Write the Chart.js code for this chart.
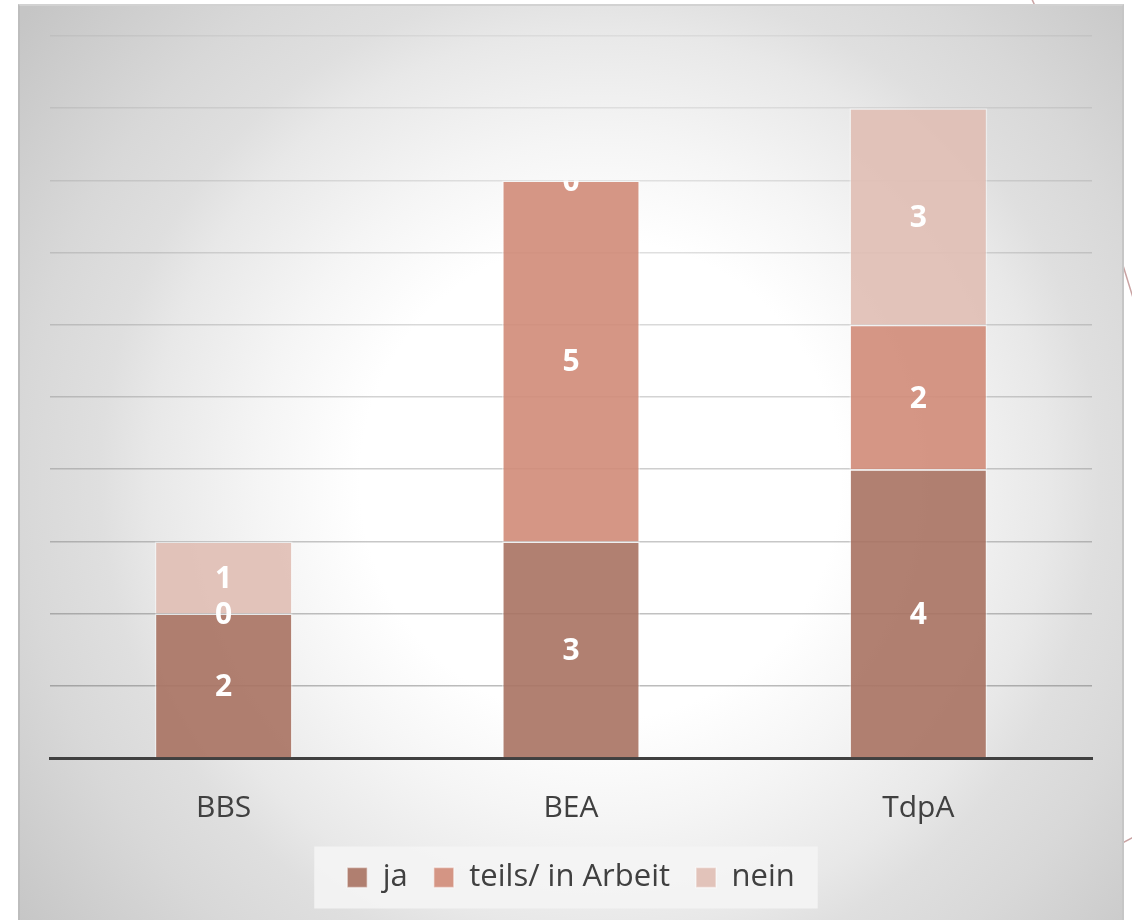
<!DOCTYPE html>
<html>
<head>
<meta charset="utf-8">
<script src="https://cdn.jsdelivr.net/npm/chart.js@4.4.1/dist/chart.umd.min.js"></script>
<style>
    body { margin: 0; background: #ffffff; width: 1132px; height: 920px; overflow: hidden; position: relative; }
    #deco { position: absolute; left: 0; top: 0; z-index: 0; }
    #panel {
        position: absolute; left: 18px; top: 4px; width: 1102px; height: 930px; z-index: 1;
        border-left: 2px solid #bdbdbd; border-top: 2px solid #d2d2d2; border-right: 2px solid #c6c6c6;
        background: radial-gradient(circle at 580px 474px, #ffffff 0px, #ffffff 240px, #f5f5f5 340px, #e8e8e8 450px, #dfdfdf 500px, #d8d8d8 580px, #c5c5c5 740px);
    }
    #wrap { position: absolute; left: 0; top: 0; width: 1102px; height: 914px; }
</style>
</head>
<body>
<svg id="deco" width="1132" height="920">
    <path d="M1030,-5 C1070,80 1105,210 1140,320 C1190,520 1210,770 1132,838 L1090,860" fill="none" stroke="#c9a3a3" stroke-width="1.5"/>
</svg>
<div id="panel"><div id="wrap"><canvas id="statusChart"></canvas></div></div>
<script>
// chart data
const categories = ['BBS', 'BEA', 'TdpA'];
const seriesNames = ['ja', 'teils/ in Arbeit', 'nein'];
const jaValues = [2, 3, 4];
const teilsValues = [0, 5, 2];
const neinValues = [1, 0, 3];
const yTicks = [0, 1, 2, 3, 4, 5, 6, 7, 8, 9, 10];

// light box behind the legend
const legendBox = {
    id: 'legendBox',
    beforeDraw(chart) {
        const boxes = chart.legend.legendHitBoxes;
        if (!boxes || !boxes.length) return;
        const first = boxes[0], last = boxes[boxes.length - 1];
        const cy = first.top + first.height / 2;
        const ctx = chart.ctx;
        ctx.save();
        ctx.fillStyle = 'rgba(244,244,244,0.9)';
        ctx.fillRect(first.left - 33, cy - 31, last.left + last.width - first.left + 56, 62);
        ctx.restore();
    }
};

// white values in the middle of each segment, kept inside the stack
const barLabels = {
    id: 'barLabels',
    afterDatasetsDraw(chart) {
        const ctx = chart.ctx;
        const metas = chart.data.datasets.map((ds, i) => chart.getDatasetMeta(i));
        categories.forEach((cat, j) => {
            const first = metas[0].data[j];
            const top = Math.min(...metas.map(m => m.data[j].y));
            ctx.save();
            ctx.beginPath();
            ctx.rect(first.x - first.width / 2, top, first.width, first.base - top);
            ctx.clip();
            ctx.fillStyle = '#ffffff';
            ctx.font = 'bold 30px "Open Sans"';
            ctx.textAlign = 'center';
            ctx.textBaseline = 'middle';
            metas.forEach((m, i) => {
                const bar = m.data[j];
                ctx.fillText(chart.data.datasets[i].data[j], bar.x, (bar.y + bar.base) / 2 + 2);
            });
            ctx.restore();
        });
    }
};

const ctx = document.getElementById('statusChart').getContext('2d');
new Chart(ctx, {
    type: 'bar',
    data: {
        labels: categories,
        datasets: [{
            label: seriesNames[0],
            data: jaValues,
            backgroundColor: 'rgba(169,114,98,0.9)',
            borderColor: 'rgba(255,255,255,0.45)',
            borderWidth: 1.5
        }, {
            label: seriesNames[1],
            data: teilsValues,
            backgroundColor: 'rgba(208,139,120,0.9)',
            borderColor: 'rgba(255,255,255,0.45)',
            borderWidth: 1.5
        }, {
            label: seriesNames[2],
            data: neinValues,
            backgroundColor: 'rgba(224,190,180,0.9)',
            borderColor: 'rgba(255,255,255,0.45)',
            borderWidth: 1.5
        }]
    },
    options: {
        responsive: true,
        maintainAspectRatio: false,
        animation: false,
        categoryPercentage: 1,
        barPercentage: 0.397,
        layout: { padding: { left: 30, right: 30, top: 30, bottom: 17 } },
        scales: {
            x: {
                stacked: true,
                grid: { display: false, drawTicks: false },
                border: { display: true, color: '#404040', width: 3 },
                ticks: { color: '#404040', font: { family: 'Open Sans', size: 30 }, padding: 32 },
                afterFit: axis => { axis.height = 78; }
            },
            y: {
                stacked: true,
                min: yTicks[0],
                max: yTicks[yTicks.length - 1],
                afterBuildTicks: axis => { axis.ticks = yTicks.map(v => ({ value: v })); },
                ticks: { display: false },
                border: { display: false },
                grid: {
                    drawTicks: false,
                    lineWidth: 1.5,
                    color: c => 'rgba(80,80,80,' + (0.42 - 0.034 * c.tick.value) + ')'
                }
            }
        },
        plugins: {
            legend: {
                display: true,
                position: 'bottom',
                labels: {
                    color: '#404040',
                    font: { family: 'Open Sans', size: 31 },
                    boxWidth: 20,
                    boxHeight: 20,
                    padding: 26
                }
            },
            tooltip: { enabled: false }
        }
    },
    plugins: [legendBox, barLabels]
});
</script>
</body>
</html>
